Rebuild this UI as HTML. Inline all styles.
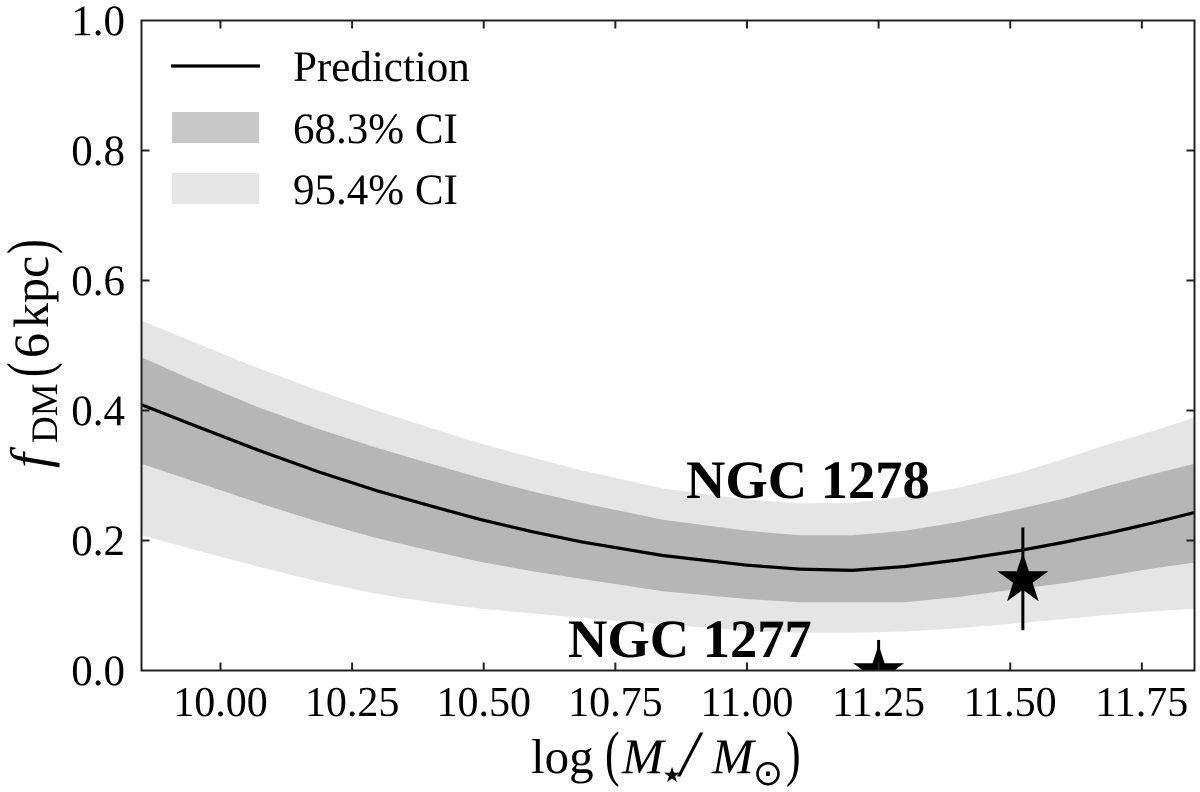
<!DOCTYPE html>
<html lang="en">
<head>
<meta charset="utf-8">
<title>Dark matter fraction versus stellar mass</title>
<style>
html,body{margin:0;padding:0;background:#fff;}
svg{display:block;}
text{font-family:"Liberation Serif",serif;fill:#000;}
.sym{font-family:"DejaVu Sans",sans-serif;}
</style>
</head>
<body>
<svg id="chart" xmlns="http://www.w3.org/2000/svg" width="1200" height="792" viewBox="0 0 1200 792">
  <defs><clipPath id="plot-clip"><rect x="141.5" y="20.5" width="1053" height="650"/></clipPath></defs>
  <g id="marks" clip-path="url(#plot-clip)"></g>
  <g id="annot">
    <text x="686" y="498" font-size="54.5" font-weight="bold">NGC 1278</text>
    <text x="568" y="657" font-size="54.5" font-weight="bold">NGC 1277</text>
  </g>
  <rect x="141.5" y="20.5" width="1053" height="650" fill="none" stroke="#222" stroke-width="2"/>
  <g id="axes"></g>
  <g>
    <line x1="171" x2="260" y1="66" y2="66" stroke="#000" stroke-width="3.2"/>
    <text x="293" y="81" font-size="43">Prediction</text>
    <rect x="172" y="112" width="87" height="31" fill="#c8c8c8"/>
    <text x="293" y="143" font-size="43">68.3% CI</text>
    <rect x="172" y="173" width="87" height="31" fill="#e5e5e5"/>
    <text x="293" y="204" font-size="43">95.4% CI</text>
  </g>
  <g>
    <text x="531" y="773" font-size="49">log</text>
    <text transform="translate(605,774) scale(0.72,1)" font-size="61">(</text>
    <text x="622" y="773" font-size="50" font-style="italic">M</text>
    <text class="sym" x="672" y="782" font-size="21" text-anchor="middle">★</text>
    <text x="680" y="776" font-size="66" font-style="italic" font-weight="normal">/</text>
    <text x="712" y="773" font-size="50" font-style="italic">M</text>
    <text class="sym" x="768" y="785" font-size="36" text-anchor="middle">⊙</text>
    <text transform="translate(786,774) scale(0.72,1)" font-size="61">)</text>
  </g>
  <g transform="translate(48,0) rotate(-90)">
    <text x="-468" y="0" font-size="54" font-style="italic">f</text>
    <text x="-443" y="9" font-size="37">DM</text>
    <text transform="translate(-377,1.5) scale(0.72,1)" font-size="61">(</text>
    <text x="-358" y="0" font-size="50">6</text>
    <text x="-328" y="0" font-size="50">kpc</text>
    <text transform="translate(-254,1.5) scale(0.72,1)" font-size="61">)</text>
  </g>
</svg>
<script>
var massKnots = [9.85, 9.95, 10.075, 10.185, 10.295, 10.4, 10.495, 10.59, 10.685, 10.84, 11.0, 11.1, 11.2, 11.3, 11.4, 11.52, 11.6, 11.69, 11.77, 11.85];
var prediction = [0.409, 0.377, 0.338, 0.306, 0.277, 0.253, 0.232, 0.214, 0.198, 0.177, 0.162, 0.156, 0.154, 0.160, 0.170, 0.185, 0.197, 0.212, 0.227, 0.243];
var upper68 = [0.482, 0.446, 0.404, 0.372, 0.343, 0.318, 0.296, 0.276, 0.258, 0.232, 0.215, 0.208, 0.208, 0.215, 0.228, 0.249, 0.264, 0.285, 0.302, 0.318];
var lower68 = [0.318, 0.291, 0.257, 0.229, 0.204, 0.184, 0.167, 0.153, 0.141, 0.122, 0.110, 0.105, 0.105, 0.105, 0.113, 0.126, 0.134, 0.146, 0.157, 0.166];
var upper95 = [0.538, 0.505, 0.464, 0.431, 0.400, 0.373, 0.349, 0.328, 0.308, 0.280, 0.263, 0.257, 0.258, 0.267, 0.281, 0.305, 0.325, 0.349, 0.368, 0.389];
var lower95 = [0.208, 0.186, 0.159, 0.137, 0.118, 0.105, 0.095, 0.088, 0.081, 0.071, 0.061, 0.058, 0.058, 0.060, 0.065, 0.073, 0.079, 0.086, 0.091, 0.095];
var galaxyNames = ["ngc-1278", "ngc-1277"];
var galaxyMass = [11.524, 11.25];
var galaxyFraction = [0.14, -0.0015];
var galaxyErrorLow = [0.062, -0.05];
var galaxyErrorHigh = [0.22, 0.047];
var xTickValues = [10.0, 10.25, 10.5, 10.75, 11.0, 11.25, 11.5, 11.75];
var xTickLabels = ["10.00", "10.25", "10.50", "10.75", "11.00", "11.25", "11.50", "11.75"];
var yTickValues = [0, 0.2, 0.4, 0.6, 0.8, 1.0];
var yTickLabels = ["0.0", "0.2", "0.4", "0.6", "0.8", "1.0"];

var NS = "http://www.w3.org/2000/svg";
var xLeft = 141.5, xRight = 1194.5, yBottom = 670.5, yTop = 20.5;
var xMin = 9.85, xMax = 11.85, yMin = 0, yMax = 1;
function xScale(v) { return xLeft + (v - xMin) / (xMax - xMin) * (xRight - xLeft); }
function yScale(v) { return yBottom - (v - yMin) / (yMax - yMin) * (yBottom - yTop); }
function svgEl(tag, attrs) {
  var el = document.createElementNS(NS, tag);
  for (var k in attrs) el.setAttribute(k, attrs[k]);
  return el;
}
function bandPoints(upper, lower) {
  var pts = [];
  for (var i = 0; i < massKnots.length; i++) pts.push(xScale(massKnots[i]).toFixed(1) + "," + yScale(upper[i]).toFixed(1));
  for (var j = massKnots.length - 1; j >= 0; j--) pts.push(xScale(massKnots[j]).toFixed(1) + "," + yScale(lower[j]).toFixed(1));
  return pts.join(" ");
}
function starPoints(cx, cy, R) {
  var pts = [];
  for (var i = 0; i < 10; i++) {
    var r = i % 2 ? R * 0.382 : R;
    var a = -Math.PI / 2 + i * Math.PI / 5;
    pts.push((cx + r * Math.cos(a)).toFixed(1) + "," + (cy + r * Math.sin(a)).toFixed(1));
  }
  return pts.join(" ");
}
var marks = document.getElementById("marks");
var axes = document.getElementById("axes");

var band95 = svgEl("polygon", {points: bandPoints(upper95, lower95), fill: "#e5e5e5"});


marks.appendChild(band95);

var band68 = svgEl("polygon", {points: bandPoints(upper68, lower68), fill: "#b6b6b6"});


marks.appendChild(band68);

var linePts = massKnots.map(function (m, i) { return xScale(m).toFixed(1) + "," + yScale(prediction[i]).toFixed(1); }).join(" ");
var predLine = svgEl("polyline", {points: linePts, fill: "none", stroke: "#000", "stroke-width": 3.2, "stroke-linejoin": "round"});


marks.appendChild(predLine);

galaxyNames.forEach(function (name, i) {
  var bar = svgEl("line", {x1: xScale(galaxyMass[i]), x2: xScale(galaxyMass[i]), y1: yScale(galaxyErrorLow[i]), y2: yScale(galaxyErrorHigh[i]), stroke: "#000", "stroke-width": 3});
  
  
  marks.appendChild(bar);
  var star = svgEl("polygon", {points: starPoints(xScale(galaxyMass[i]), yScale(galaxyFraction[i]), 26.8), fill: "#000"});
  
  
  marks.appendChild(star);
});

xTickValues.forEach(function (v, i) {
  var x = xScale(v);
  var tb = svgEl("line", {x1: x, x2: x, y1: yBottom, y2: yBottom - 8, stroke: "#222", "stroke-width": 2});
  
  
  axes.appendChild(tb);
  var tt = svgEl("line", {x1: x, x2: x, y1: yTop, y2: yTop + 8, stroke: "#222", "stroke-width": 2});
  
  
  axes.appendChild(tt);
  var lab = svgEl("text", {x: x, y: 716, "font-size": 42, "text-anchor": "middle"});
  lab.textContent = xTickLabels[i];
  
  
  axes.appendChild(lab);
});

yTickValues.forEach(function (v, i) {
  var y = yScale(v);
  var tl = svgEl("line", {x1: xLeft, x2: xLeft + 8, y1: y, y2: y, stroke: "#222", "stroke-width": 2});
  
  
  axes.appendChild(tl);
  var tr = svgEl("line", {x1: xRight, x2: xRight - 8, y1: y, y2: y, stroke: "#222", "stroke-width": 2});
  
  
  axes.appendChild(tr);
  var lab = svgEl("text", {x: 125, y: y + 14.5, "font-size": 43, "text-anchor": "end"});
  lab.textContent = yTickLabels[i];
  
  
  axes.appendChild(lab);
});
</script>
</body>
</html>
